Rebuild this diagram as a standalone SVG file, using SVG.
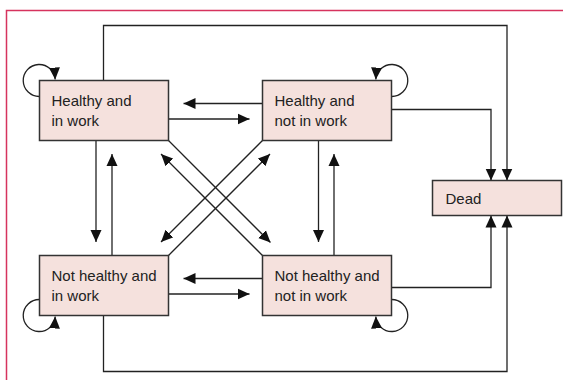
<svg xmlns="http://www.w3.org/2000/svg" width="563" height="380" viewBox="0 0 563 380">
<defs>
<style>
.box{fill:#f5e1dd;stroke:#333;stroke-width:1.5}
.lbl{font-family:"Liberation Sans",Arial,sans-serif;font-size:15px;fill:#222}
.arr{fill:none;stroke:#222;stroke-width:1.3;marker-end:url(#ah)}
.frame{fill:none;stroke:#d6335e;stroke-width:1.5}
</style>
<marker id="ah" viewBox="0 0 12 12" refX="12" refY="6" markerWidth="12" markerHeight="12" markerUnits="userSpaceOnUse" orient="auto">
<path d="M0,0.5 L12,6 L0,11.5 Z" fill="#111"/>
</marker>
</defs>
<path class="frame" d="M6.5,380 V10.5 H563"/>
<g id="connectors">
<path class="arr" d="M103.5,80.5 V25.5 H507 V180.5"/>
<path class="arr" d="M391.5,109.5 H491 V180.5"/>
<path class="arr" d="M391.5,287.5 H491 V215.5"/>
<path class="arr" d="M103.5,315.5 V371.5 H507 V215.5"/>
<path class="arr" d="M262.5,103.5 H183.5"/>
<path class="arr" d="M168.5,119 H249.5"/>
<path class="arr" d="M262.5,278.5 H183.5"/>
<path class="arr" d="M168.5,294 H249.5"/>
<path class="arr" d="M96,140.5 V242"/>
<path class="arr" d="M112,255.5 V154"/>
<path class="arr" d="M318.5,140.5 V242"/>
<path class="arr" d="M334,255.5 V154"/>
<path class="arr" d="M168.5,140.5 L270.5,242.5"/>
<path class="arr" d="M262.5,255.5 L161,154"/>
<path class="arr" d="M262.5,140.5 L161,242"/>
<path class="arr" d="M168.5,255.5 L270,154"/>
<path class="arr" d="M39.5,96.5 A16,16 0 1 1 55.2,79.5"/>
<path class="arr" d="M391.5,96.5 A16,16 0 1 0 375.8,79.5"/>
<path class="arr" d="M39.5,299.5 A16,16 0 1 0 55.2,316.5"/>
<path class="arr" d="M391.5,299.5 A16,16 0 1 1 375.8,316.5"/>
</g>
<g id="n1"><rect class="box" x="39.5" y="80.5" width="129" height="60"/><text class="lbl" x="51.5" y="106">Healthy and</text><text class="lbl" x="51.5" y="126">in work</text></g>
<g id="n2"><rect class="box" x="262.5" y="80.5" width="129" height="60"/><text class="lbl" x="274.5" y="106">Healthy and</text><text class="lbl" x="274.5" y="126">not in work</text></g>
<g id="n3"><rect class="box" x="39.5" y="255.5" width="129" height="60"/><text class="lbl" x="51.5" y="280.5">Not healthy and</text><text class="lbl" x="51.5" y="300.5">in work</text></g>
<g id="n4"><rect class="box" x="262.5" y="255.5" width="129" height="60"/><text class="lbl" x="274.5" y="280.5">Not healthy and</text><text class="lbl" x="274.5" y="300.5">not in work</text></g>
<g id="n5"><rect class="box" x="432.5" y="180.5" width="129" height="35"/><text class="lbl" x="445.5" y="203.5">Dead</text></g>
</svg>
